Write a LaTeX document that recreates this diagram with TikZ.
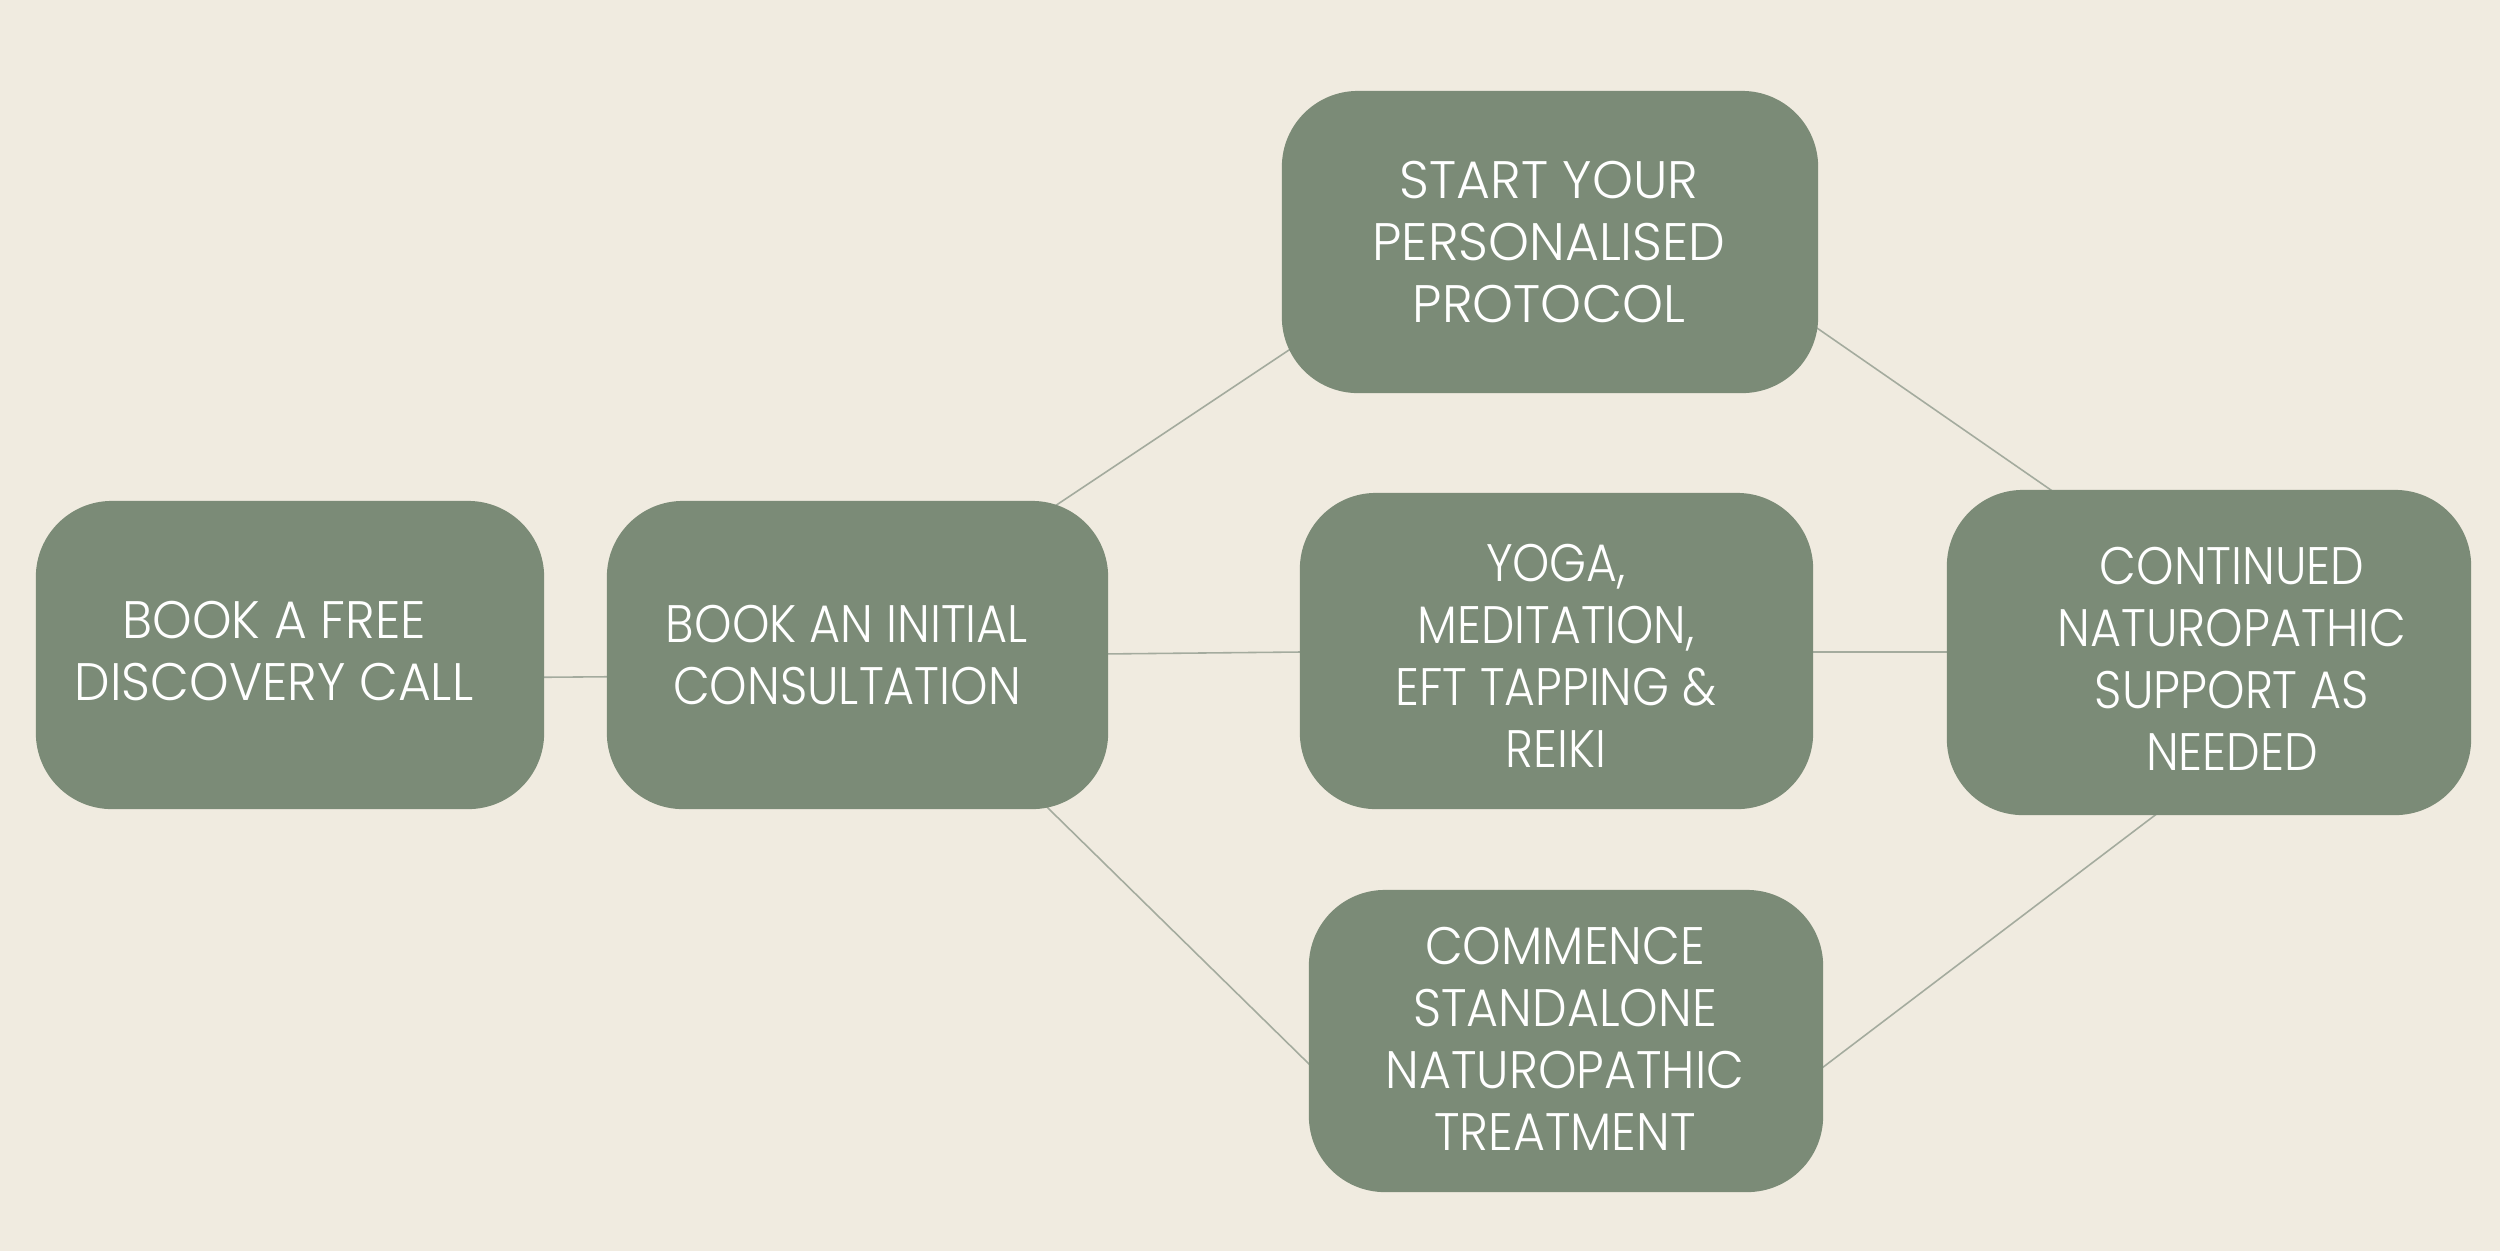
\documentclass[tikz,border=0pt]{standalone}
\usepackage{fontspec}
\setmainfont{Poppins Light}
\newcommand\lblfont[1]{\fontspec{Poppins Light}[FakeStretch=#1]\fontsize{15}{17.6}\selectfont}
\definecolor{bgc}{HTML}{F0EBE0}
\definecolor{boxc}{HTML}{7B8B77}
\definecolor{linec}{HTML}{A4AB9E}
\pgfdeclarelayer{bg}
\pgfdeclarelayer{wires}
\pgfsetlayers{bg,wires,main}
\begin{document}
\begin{tikzpicture}[x=0.01cm,y=-0.01cm,
  box/.style={rectangle, rounded corners=0.76cm, fill=boxc, inner sep=0pt},
  lbl/.style={text=white, align=center, font=\lblfont{#1}, inner sep=0pt},
  lbl/.default=1,
  conn/.style={draw=linec, line width=0.45pt}]
\useasboundingbox (0,0) rectangle (2500,1250);
\begin{pgfonlayer}{bg}
\fill[bgc] (-10,-10) rectangle (2510,1260);
\end{pgfonlayer}

\node[box, minimum width=5.08cm, minimum height=3.08cm] (b1) at (290,655) {};
\node[box, minimum width=5.01cm, minimum height=3.08cm] (b2) at (857.5,655) {};
\node[box, minimum width=5.36cm, minimum height=3.02cm] (b3) at (1550,242) {};
\node[box, minimum width=5.13cm, minimum height=3.16cm] (b4) at (1556.5,651) {};
\node[box, minimum width=5.14cm, minimum height=3.02cm] (b5) at (1566,1041) {};
\node[box, minimum width=5.24cm, minimum height=3.25cm] (b6) at (2209,652.5) {};

\node[lbl=0.954] (t1) at (274,651) {BOOK A FREE\\DISCOVERY CALL};
\node[lbl=0.904] (t2) at (847,655) {BOOK AN INITIAL\\CONSULTATION};
\node[lbl=0.987] (t3) at (1549,242) {START YOUR\\PERSONALISED\\PROTOCOL};
\node[lbl=0.897] (t4) at (1556,656) {YOGA,\\MEDITATION,\\EFT TAPPING \&\\REIKI};
\node[lbl=0.93] (t5) at (1565,1039) {COMMENCE\\STANDALONE\\NATUROPATHIC\\TREATMENT};
\node[lbl=0.904] (t6) at (2232,659) {CONTINUED\\NATUROPATHIC\\SUPPORT AS\\NEEDED};

\begin{pgfonlayer}{wires}
\draw[conn] ([shift={(160,23)}]b1.center) -- ([shift={(-157.5,21)}]b2.center);
\draw[conn] ([shift={(116.5,-95)}]b2.center) -- ([shift={(-186,58)}]b3.center);
\draw[conn] ([shift={(142.5,0)}]b2.center) -- ([shift={(-156.5,0)}]b4.center);
\draw[conn] ([shift={(141.5,105)}]b2.center) -- ([shift={(-206,73)}]b5.center);
\draw[conn] ([shift={(150,5)}]b3.center) -- ([shift={(-109,-128.5)}]b6.center);
\draw[conn] ([shift={(143.5,1)}]b4.center) -- ([shift={(-109,-0.5)}]b6.center);
\draw[conn] ([shift={(194,74)}]b5.center) -- ([shift={(-9,128.5)}]b6.center);
\end{pgfonlayer}
\end{tikzpicture}
\end{document}
